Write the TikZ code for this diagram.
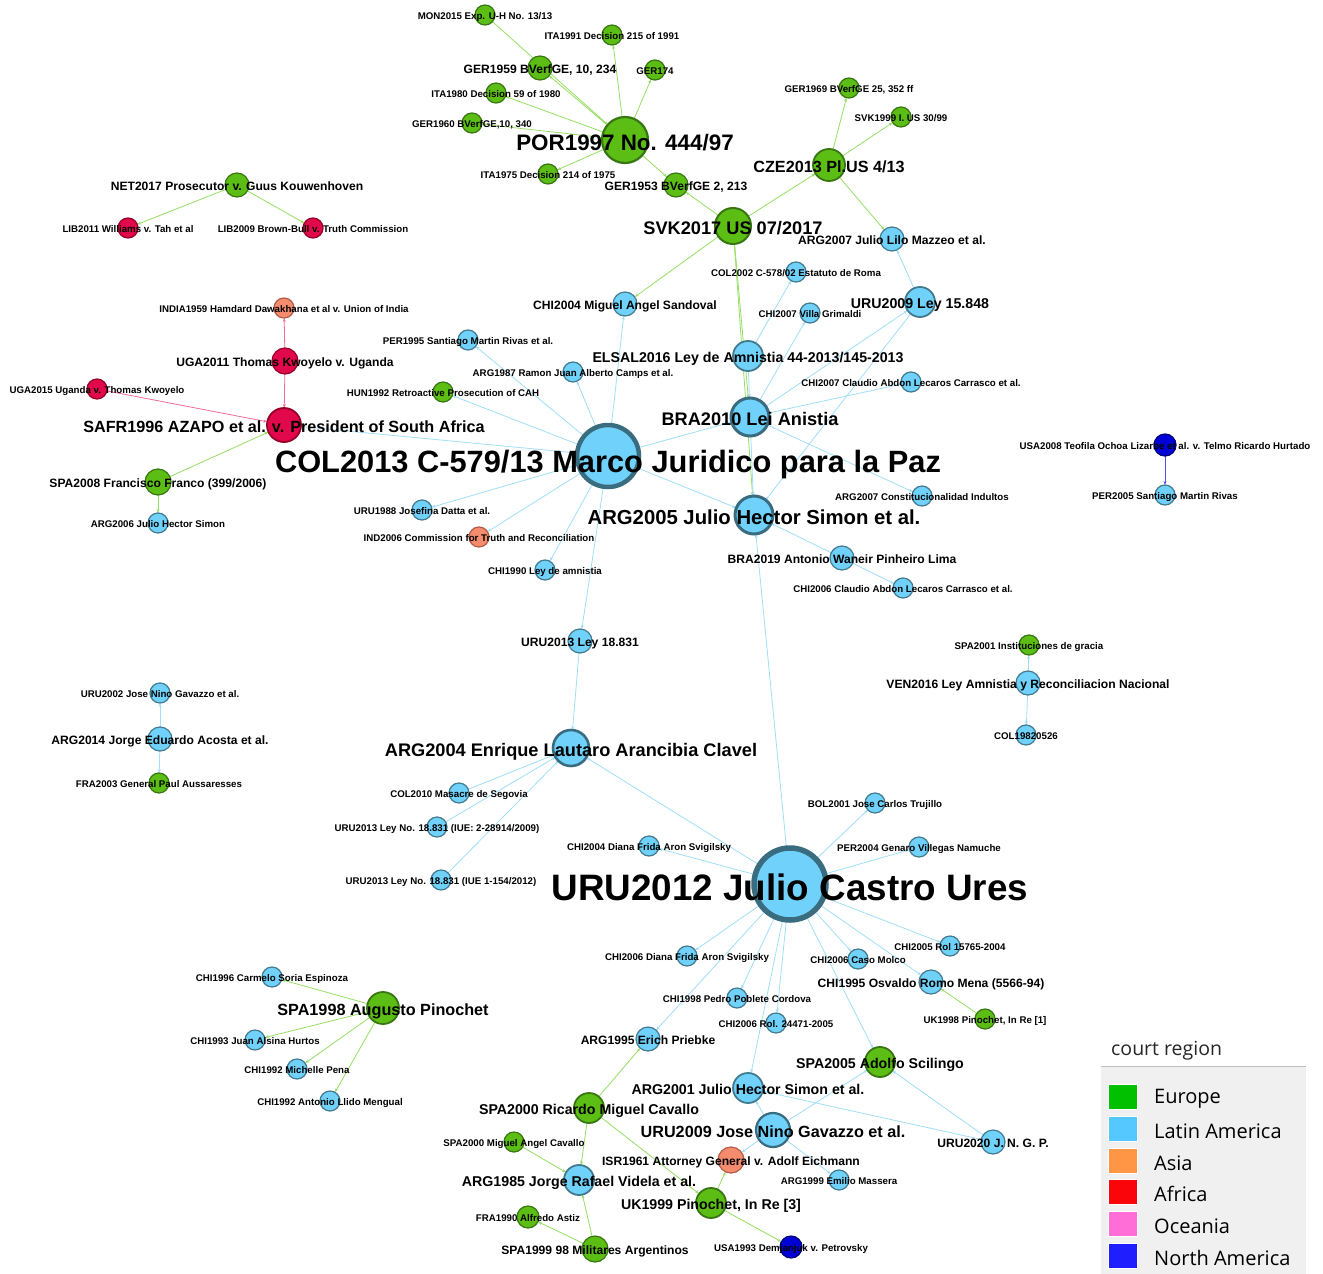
\documentclass[tikz,border=0pt]{standalone}
\usepackage{fontspec}
\setmainfont{Liberation Sans}
\newfontfamily\legfont{Open Sans}
\usetikzlibrary{arrows.meta}
\pgfdeclarelayer{back}
\pgfdeclarelayer{edges}
\pgfdeclarelayer{labels}
\pgfsetlayers{back,edges,main,labels}
\definecolor{ngreen}{RGB}{92,190,20}
\definecolor{ngreenb}{RGB}{56,118,18}
\definecolor{nblue}{RGB}{112,210,250}
\definecolor{nblueb}{RGB}{66,122,142}
\definecolor{nbigb}{RGB}{58,108,128}
\definecolor{nred}{RGB}{226,8,76}
\definecolor{nredb}{RGB}{150,0,40}
\definecolor{norange}{RGB}{246,140,110}
\definecolor{norangeb}{RGB}{180,92,70}
\definecolor{ndblue}{RGB}{0,0,215}
\definecolor{ndblueb}{RGB}{0,0,120}
\definecolor{egreen}{RGB}{150,222,100}
\definecolor{eblue}{RGB}{160,222,250}
\definecolor{ered}{RGB}{240,110,150}
\definecolor{edblue}{RGB}{80,80,235}
\definecolor{legbg}{RGB}{240,240,240}
\definecolor{legline}{RGB}{190,190,190}
\definecolor{lEurope}{RGB}{0,192,0}
\definecolor{lLatin}{RGB}{85,200,255}
\definecolor{lAsia}{RGB}{255,150,70}
\definecolor{lAfrica}{RGB}{250,5,10}
\definecolor{lOceania}{RGB}{255,110,215}
\definecolor{lNorth}{RGB}{30,30,255}
\tikzset{
  gn/.style={circle, inner sep=0pt, outer sep=0pt},
  gr/.style={gn, fill=ngreen, draw=ngreenb, line width=1.2pt},
  bl/.style={gn, fill=nblue, draw=nblueb, line width=1.2pt},
  rd/.style={gn, fill=nred, draw=nredb, line width=1.2pt},
  og/.style={gn, fill=norange, draw=norangeb, line width=1.2pt},
  db/.style={gn, fill=ndblue, draw=ndblueb, line width=1.2pt},
  big/.style={draw=nbigb},
  lb/.style={inner sep=0pt, outer sep=0pt, text=black, anchor=base},
  f10/.style={font=\fontsize{9.7}{10}\selectfont\bfseries, yshift=-4.6pt},
  f12/.style={font=\fontsize{12.1}{13}\selectfont\bfseries, yshift=-5.8pt},
  f14/.style={font=\fontsize{14.2}{15}\selectfont\bfseries, yshift=-6.8pt},
  f16/.style={font=\fontsize{16.2}{17}\selectfont\bfseries, yshift=-7.8pt},
  f18/.style={font=\fontsize{18.2}{19}\selectfont\bfseries, yshift=-8.7pt},
  f20/.style={font=\fontsize{20.3}{21}\selectfont\bfseries, yshift=-9.7pt},
  f22/.style={font=\fontsize{22.4}{23}\selectfont\bfseries, yshift=-10.5pt},
  f31/.style={font=\fontsize{30.8}{32}\selectfont\bfseries, yshift=-16pt},
  f37/.style={font=\fontsize{36.8}{38}\selectfont\bfseries, yshift=-16pt},
  tip/.style={-{Stealth[length=4pt,width=3pt]}},
  eg/.style={draw=egreen, line width=0.8pt, tip},
  eb/.style={draw=eblue, line width=0.8pt, tip},
  er/.style={draw=ered, line width=0.8pt, tip},
  ed/.style={draw=edblue, line width=0.8pt, tip},
  sw/.style={minimum width=29pt, minimum height=25pt, inner sep=0pt, draw=white, line width=0.6pt},
  legtext/.style={anchor=west, inner sep=0pt, text=black, font=\legfont\fontsize{20}{22}\selectfont},
}
\newcommand{\gnode}[7]{%
  \node[#5, minimum size=#4pt] (#1) at (#2,#3) {};
  \begin{pgfonlayer}{labels}
  \node[lb,#6] (#1-l) at (#2,#3) {#7};
  \end{pgfonlayer}}
\newcommand{\edg}[3]{\draw[#1] (#2) -- (#3);}
\begin{document}
\begin{tikzpicture}[x=1pt,y=-1pt]
\useasboundingbox (0,0) rectangle (1323,1274);
\begin{pgfonlayer}{back}
\fill[white] (0,0) rectangle (1323,1274);
\end{pgfonlayer}
% ---- nodes
\gnode{mon}{485}{15}{20}{gr}{f10}{MON2015 Exp. U-H No. 13/13}
\gnode{ita91}{612}{35}{20}{gr}{f10}{ITA1991 Decision 215 of 1991}
\gnode{ger59}{540}{68}{24}{gr}{f12}{GER1959 BVerfGE, 10, 234}
\gnode{ger174}{655}{70}{20}{gr}{f10}{GER174}
\gnode{ita80}{496}{93}{20}{gr}{f10}{ITA1980 Decision 59 of 1980}
\gnode{ger60}{472}{123}{20}{gr}{f10}{GER1960 BVerfGE,10, 340}
\gnode{por}{625}{140}{46}{gr,line width=2.2pt}{f22}{POR1997 No. 444/97}
\gnode{ita75}{548}{174}{20}{gr}{f10}{ITA1975 Decision 214 of 1975}
\gnode{ger53}{676}{185}{24}{gr}{f12}{GER1953 BVerfGE 2, 213}
\gnode{ger69}{849}{88}{20}{gr}{f10}{GER1969 BVerfGE 25, 352 ff}
\gnode{svk99}{901}{117}{20}{gr}{f10}{SVK1999 I. US 30/99}
\gnode{cze}{829}{165}{32}{gr,line width=1.8pt}{f16}{CZE2013 Pl.US 4/13}
\gnode{svk17}{733}{226}{36}{gr,line width=2pt}{f18}{SVK2017 US 07/2017}
\gnode{arg07m}{892}{239}{24}{bl}{f12}{ARG2007 Julio Lilo Mazzeo et al.}
\gnode{col02}{796}{272}{20}{bl}{f10}{COL2002 C-578/02 Estatuto de Roma}
\gnode{chi04m}{625}{304}{24}{bl}{f12}{CHI2004 Miguel Angel Sandoval}
\gnode{uru09l}{920}{302}{30}{bl,line width=1.8pt}{f14}{URU2009 Ley 15.848}
\gnode{chi07v}{810}{313}{20}{bl}{f10}{CHI2007 Villa Grimaldi}
\gnode{per95}{468}{340}{20}{bl}{f10}{PER1995 Santiago Martin Rivas et al.}
\gnode{elsal}{748}{356}{30}{bl,line width=1.8pt}{f14}{ELSAL2016 Ley de Amnistia 44-2013/145-2013}
\gnode{arg87}{573}{372}{20}{bl}{f10}{ARG1987 Ramon Juan Alberto Camps et al.}
\gnode{chi07c}{911}{382}{20}{bl}{f10}{CHI2007 Claudio Abdon Lecaros Carrasco et al.}
\gnode{hun}{443}{392}{20}{gr}{f10}{HUN1992 Retroactive Prosecution of CAH}
\gnode{bra10}{750}{417}{38}{bl,big,line width=3pt}{f18}{BRA2010 Lei Anistia}
\gnode{col13}{608}{456}{62}{bl,big,line width=4.5pt}{f31}{COL2013 C-579/13 Marco Juridico para la Paz}
\gnode{india}{284}{308}{20}{og}{f10}{INDIA1959 Hamdard Dawakhana et al v. Union of India}
\gnode{uga11}{285}{361}{26}{rd}{f12}{UGA2011 Thomas Kwoyelo v. Uganda}
\gnode{uga15}{97}{389}{20}{rd}{f10}{UGA2015 Uganda v. Thomas Kwoyelo}
\gnode{safr}{284}{425}{34}{rd,line width=1.8pt}{f16}{SAFR1996 AZAPO et al. v. President of South Africa}
\gnode{net}{237}{185}{24}{gr}{f12}{NET2017 Prosecutor v. Guus Kouwenhoven}
\gnode{lib11}{128}{228}{20}{rd}{f10}{LIB2011 Williams v. Tah et al}
\gnode{lib09}{313}{228}{20}{rd}{f10}{LIB2009 Brown-Bull v. Truth Commission}
\gnode{spa08}{158}{482}{26}{gr}{f12}{SPA2008 Francisco Franco (399/2006)}
\gnode{arg06}{158}{523}{20}{bl}{f10}{ARG2006 Julio Hector Simon}
\gnode{uru88}{422}{510}{20}{bl}{f10}{URU1988 Josefina Datta et al.}
\gnode{arg07c}{922}{496}{20}{bl}{f10}{ARG2007 Constitucionalidad Indultos}
\gnode{arg05}{754}{515}{38}{bl,big,line width=3pt}{f20}{ARG2005 Julio Hector Simon et al.}
\gnode{ind06}{479}{537}{20}{og}{f10}{IND2006 Commission for Truth and Reconciliation}
\gnode{bra19}{842}{558}{24}{bl}{f12}{BRA2019 Antonio Waneir Pinheiro Lima}
\gnode{chi90}{545}{570}{20}{bl}{f10}{CHI1990 Ley de amnistia}
\gnode{chi06c}{903}{588}{20}{bl}{f10}{CHI2006 Claudio Abdon Lecaros Carrasco et al.}
\gnode{usa08}{1165}{445}{22}{db}{f10}{USA2008 Teofila Ochoa Lizarbe et al. v. Telmo Ricardo Hurtado}
\gnode{per05}{1165}{495}{20}{bl}{f10}{PER2005 Santiago Martin Rivas}
\gnode{spa01}{1029}{645}{20}{gr}{f10}{SPA2001 Instituciones de gracia}
\gnode{ven}{1028}{683}{24}{bl}{f12}{VEN2016 Ley Amnistia y Reconciliacion Nacional}
\gnode{col82}{1026}{735}{20}{bl}{f10}{COL19820526}
\gnode{uru13l}{580}{641}{24}{bl}{f12}{URU2013 Ley 18.831}
\gnode{uru02}{160}{693}{20}{bl}{f10}{URU2002 Jose Nino Gavazzo et al.}
\gnode{arg14}{160}{739}{24}{bl}{f12}{ARG2014 Jorge Eduardo Acosta et al.}
\gnode{fra03}{159}{783}{20}{gr}{f10}{FRA2003 General Paul Aussaresses}
\gnode{arg04}{571}{748}{36}{bl,big,line width=2.6pt}{f18}{ARG2004 Enrique Lautaro Arancibia Clavel}
\gnode{col10}{459}{793}{20}{bl}{f10}{COL2010 Masacre de Segovia}
\gnode{uru13a}{437}{827}{20}{bl}{f10}{URU2013 Ley No. 18.831 (IUE: 2-28914/2009)}
\gnode{uru13b}{441}{880}{20}{bl}{f10}{URU2013 Ley No. 18.831 (IUE 1-154/2012)}
\gnode{bol}{875}{803}{20}{bl}{f10}{BOL2001 Jose Carlos Trujillo}
\gnode{chi04d}{649}{846}{20}{bl}{f10}{CHI2004 Diana Frida Aron Svigilsky}
\gnode{per04}{919}{847}{20}{bl}{f10}{PER2004 Genaro Villegas Namuche}
\gnode{uru12}{790}{884}{72}{bl,big,line width=5.5pt}{f37}{URU2012 Julio Castro Ures}
\gnode{chi05}{950}{946}{20}{bl}{f10}{CHI2005 Rol 15765-2004}
\gnode{chi06d}{687}{956}{20}{bl}{f10}{CHI2006 Diana Frida Aron Svigilsky}
\gnode{chi06m}{858}{959}{20}{bl}{f10}{CHI2006 Caso Molco}
\gnode{chi96}{272}{977}{20}{bl}{f10}{CHI1996 Carmelo Soria Espinoza}
\gnode{chi95}{931}{982}{24}{bl}{f12}{CHI1995 Osvaldo Romo Mena (5566-94)}
\gnode{spa98}{383}{1008}{32}{gr,line width=1.8pt}{f16}{SPA1998 Augusto Pinochet}
\gnode{chi98}{737}{998}{20}{bl}{f10}{CHI1998 Pedro Poblete Cordova}
\gnode{uk98}{985}{1019}{20}{gr}{f10}{UK1998 Pinochet, In Re [1]}
\gnode{chi06r}{776}{1023}{20}{bl}{f10}{CHI2006 Rol. 24471-2005}
\gnode{chi93}{255}{1040}{20}{bl}{f10}{CHI1993 Juan Alsina Hurtos}
\gnode{arg95}{648}{1039}{24}{bl}{f12}{ARG1995 Erich Priebke}
\gnode{chi92m}{297}{1069}{20}{bl}{f10}{CHI1992 Michelle Pena}
\gnode{spa05}{880}{1062}{30}{gr,line width=1.8pt}{f14}{SPA2005 Adolfo Scilingo}
\gnode{arg01}{748}{1088}{30}{bl,line width=1.8pt}{f14}{ARG2001 Julio Hector Simon et al.}
\gnode{chi92a}{330}{1101}{20}{bl}{f10}{CHI1992 Antonio Llido Mengual}
\gnode{spa00r}{589}{1108}{30}{gr,line width=1.8pt}{f14}{SPA2000 Ricardo Miguel Cavallo}
\gnode{uru09j}{773}{1130}{34}{bl,big,line width=2.2pt}{f16}{URU2009 Jose Nino Gavazzo et al.}
\gnode{uru20}{993}{1142}{24}{bl}{f12}{URU2020 J. N. G. P.}
\gnode{spa00m}{514}{1142}{20}{gr}{f10}{SPA2000 Miguel Angel Cavallo}
\gnode{isr}{731}{1160}{26}{og}{f12}{ISR1961 Attorney General v. Adolf Eichmann}
\gnode{arg99}{839}{1180}{20}{bl}{f10}{ARG1999 Emilio Massera}
\gnode{arg85}{579}{1180}{30}{bl,line width=1.8pt}{f14}{ARG1985 Jorge Rafael Videla et al.}
\gnode{uk99}{711}{1203}{30}{gr,line width=1.8pt}{f14}{UK1999 Pinochet, In Re [3]}
\gnode{fra90}{528}{1217}{22}{gr}{f10}{FRA1990 Alfredo Astiz}
\gnode{spa99}{595}{1249}{26}{gr}{f12}{SPA1999 98 Militares Argentinos}
\gnode{usa93}{791}{1247}{22}{db}{f10}{USA1993 Demjanjuk v. Petrovsky}
% ---- edges
\begin{pgfonlayer}{edges}
\edg{eg}{mon}{por}
\edg{eg}{por}{ger59}
\edg{eg}{por}{ita91}
\edg{eg}{por}{ger174}
\edg{eg}{por}{ita80}
\edg{eg}{por}{ger60}
\edg{eg}{por}{ita75}
\edg{eg}{por}{ger53}
\edg{eg}{svk17}{ger53}
\edg{eg}{svk17}{cze}
\edg{eg}{cze}{ger69}
\edg{eg}{cze}{svk99}
\edg{eg}{cze}{arg07m}
\edg{eg}{svk17}{chi04m}
\edg{eg}{svk17}{bra10}
\edg{eg}{svk17}{arg05}
\edg{eg}{net}{lib11}
\edg{eg}{net}{lib09}
\edg{eg}{spa08}{arg06}
\edg{eg}{spa08}{safr}
\edg{eg}{spa98}{chi96}
\edg{eg}{spa98}{chi93}
\edg{eg}{spa98}{chi92m}
\edg{eg}{spa98}{chi92a}
\edg{eg}{spa00r}{arg95}
\edg{eg}{spa00r}{arg85}
\edg{eg}{spa00r}{uk99}
\edg{eg}{spa00m}{arg85}
\edg{eg}{spa99}{arg85}
\edg{eg}{spa99}{fra90}
\edg{eg}{uk99}{isr}
\edg{eg}{uk99}{usa93}
\edg{eg}{uk98}{chi95}
\edg{er}{uga11}{india}
\edg{er}{uga11}{safr}
\edg{er}{uga15}{safr}
\edg{ed}{usa08}{per05}
\edg{eb}{col13}{safr}
\edg{eb}{col13}{hun}
\edg{eb}{col13}{per95}
\edg{eb}{col13}{arg87}
\edg{eb}{col13}{chi04m}
\edg{eb}{col13}{bra10}
\edg{eb}{col13}{arg05}
\edg{eb}{col13}{uru88}
\edg{eb}{col13}{ind06}
\edg{eb}{col13}{chi90}
\edg{eb}{col13}{uru13l}
\edg{eb}{uru09l}{arg07m}
\edg{eb}{elsal}{col02}
\edg{eb}{elsal}{bra10}
\edg{eb}{bra10}{chi07v}
\edg{eb}{bra10}{chi07c}
\edg{eb}{bra10}{uru09l}
\edg{eb}{bra10}{arg07c}
\edg{eb}{bra10}{arg05}
\edg{eb}{uru09l}{arg05}
\edg{eb}{bra19}{arg05}
\edg{eb}{bra19}{chi06c}
\edg{eb}{uru12}{arg05}
\edg{eb}{uru13l}{arg04}
\edg{eb}{col10}{arg04}
\edg{eb}{uru13a}{arg04}
\edg{eb}{uru13b}{arg04}
\edg{eb}{uru12}{arg04}
\edg{eb}{uru12}{chi04d}
\edg{eb}{uru12}{bol}
\edg{eb}{uru12}{per04}
\edg{eb}{uru12}{chi05}
\edg{eb}{uru12}{chi06d}
\edg{eb}{uru12}{chi06m}
\edg{eb}{uru12}{chi95}
\edg{eb}{uru12}{chi98}
\edg{eb}{uru12}{chi06r}
\edg{eb}{uru12}{arg95}
\edg{eb}{uru12}{arg01}
\edg{eb}{uru12}{spa05}
\edg{eb}{uru09j}{arg01}
\edg{eb}{uru20}{arg01}
\edg{eb}{uru20}{spa05}
\edg{eb}{uru09j}{spa05}
\edg{eb}{uru09j}{isr}
\edg{eb}{uru09j}{arg99}
\edg{eb}{arg14}{uru02}
\edg{eb}{arg14}{fra03}
\edg{eb}{ven}{spa01}
\edg{eb}{ven}{col82}
\end{pgfonlayer}
% ---- legend
\node[anchor=north west, minimum width=205pt, minimum height=208pt, inner sep=0pt, fill=legbg] (legbox) at (1101,1066) {};
\draw[legline, line width=1pt] (legbox.north west) -- (legbox.north east);
\node[anchor=west, inner sep=0pt, text=black!85, font=\legfont\fontsize{19.5}{21}\selectfont] (legtitle) at (1111,1051) {court region};
\node[sw, fill=lEurope] (sw1) at (1122.5,1097) {};
\node[sw, fill=lLatin] (sw2) at (1122.5,1129) {};
\node[sw, fill=lAsia] (sw3) at (1122.5,1161) {};
\node[sw, fill=lAfrica] (sw4) at (1122.5,1192) {};
\node[sw, fill=lOceania] (sw5) at (1122.5,1224) {};
\node[sw, fill=lNorth] (sw6) at (1122.5,1256) {};
\node[legtext] (lt1) at (1154,1099) {Europe};
\node[legtext] (lt2) at (1154,1131) {Latin America};
\node[legtext] (lt3) at (1154,1163) {Asia};
\node[legtext] (lt4) at (1154,1194) {Africa};
\node[legtext] (lt5) at (1154,1226) {Oceania};
\node[legtext] (lt6) at (1154,1258) {North America};
\end{tikzpicture}
\end{document}
